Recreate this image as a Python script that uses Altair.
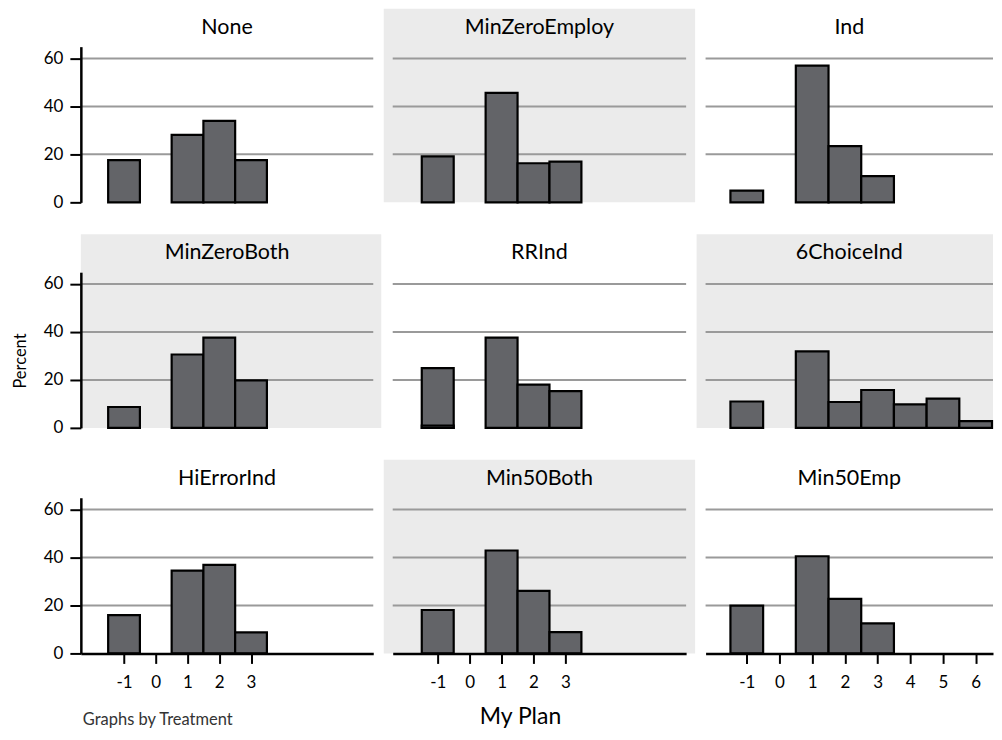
import altair as alt
import pandas as pd

# ---------------- data ----------------
treatments = ["None", "MinZeroEmploy", "Ind",
              "MinZeroBoth", "RRInd", "6ChoiceInd",
              "HiErrorInd", "Min50Both", "Min50Emp"]
shaded = [False, True, False, True, False, True, False, True, False]

plan_none = [-1, 1, 2, 3]
pct_none = [17.6, 28.1, 34.0, 17.6]
plan_minzeroemploy = [-1, 1, 2, 3]
pct_minzeroemploy = [19.2, 45.6, 16.3, 17.0]
plan_ind = [-1, 1, 2, 3]
pct_ind = [4.9, 57.0, 23.4, 10.9]
plan_minzeroboth = [-1, 1, 2, 3]
pct_minzeroboth = [8.7, 30.6, 37.6, 19.8]
plan_rrind = [-1, -1, 1, 2, 3]
pct_rrind = [24.9, 1.0, 37.6, 18.0, 15.3]
plan_6choiceind = [-1, 1, 2, 3, 4, 5, 6]
pct_6choiceind = [11.0, 31.9, 10.8, 15.8, 9.8, 12.2, 2.8]
plan_hierrorind = [-1, 1, 2, 3]
pct_hierrorind = [16.0, 34.5, 36.9, 8.8]
plan_min50both = [-1, 1, 2, 3]
pct_min50both = [18.1, 42.9, 26.1, 8.9]
plan_min50emp = [-1, 1, 2, 3]
pct_min50emp = [19.9, 40.5, 22.7, 12.5]

plans = [plan_none, plan_minzeroemploy, plan_ind, plan_minzeroboth, plan_rrind,
         plan_6choiceind, plan_hierrorind, plan_min50both, plan_min50emp]
pcts = [pct_none, pct_minzeroemploy, pct_ind, pct_minzeroboth, pct_rrind,
        pct_6choiceind, pct_hierrorind, pct_min50both, pct_min50emp]

y_ticks = [0, 20, 40, 60]
grid_values = [20, 40, 60]
x_ticks_short = [-1, 0, 1, 2, 3]
x_ticks_long = [-1, 0, 1, 2, 3, 4, 5, 6]

x_title = "My Plan"
y_title = "Percent"
note = "Graphs by Treatment"

# ---------------- styling ----------------
col_widths = [293, 294, 288]
H = 156
Y_MAX = 64.9
col_domains = [[-2.36, 6.85], [-2.41, 6.78], [-2.26, 6.53]]
FONT = "Lato"
BAR_FILL = "#636468"
GRID = "#9a9a9a"
SHADE = "#ebebeb"


def panel(i):
    row, col = divmod(i, 3)
    W = col_widths[col]
    df = pd.DataFrame({"plan": plans[i], "pct": pcts[i]})
    xscale = alt.Scale(domain=col_domains[col], nice=False, zero=False)
    yscale = alt.Scale(domain=[0, Y_MAX], nice=False, zero=True)

    if row == 2:
        xaxis = alt.Axis(values=x_ticks_long if col == 2 else x_ticks_short,
                         labelExpr="'' + datum.value",
                         title=None, grid=False, zindex=1,
                         domainColor="black", domainWidth=2.5,
                         tickColor="black", tickWidth=2, tickSize=10,
                         labelFont=FONT, labelFontSize=17, labelColor="black",
                         labelPadding=11, labelOverlap=False, labelFlush=False)
    else:
        xaxis = None
    if col == 0:
        yaxis = alt.Axis(values=y_ticks, title=None, grid=False, zindex=1,
                         domainColor="black", domainWidth=2.5,
                         tickColor="black", tickWidth=2, tickSize=11,
                         labelFont=FONT, labelFontSize=17, labelColor="black",
                         labelPadding=7, labelOverlap=False, labelFlush=False)
    else:
        yaxis = None

    layers = []
    if shaded[i]:
        left = 0 if col == 0 else -9
        right = W + 8 if col == 0 else (W + 9 if col == 1 else W)
        bg = alt.Chart(pd.DataFrame({"a": [0]})).mark_rect(color=SHADE).encode(
            x=alt.value(left), x2=alt.value(right),
            y=alt.value(-38), y2=alt.value(H))
        layers.append(bg)

    grid = alt.Chart(pd.DataFrame({"pct": grid_values})).mark_rule(
        color=GRID, strokeWidth=2).encode(
        y=alt.Y("pct:Q", scale=yscale, axis=yaxis),
        x=alt.value(0), x2=alt.value(W))
    layers.append(grid)

    bars = alt.Chart(df).transform_calculate(
        lo="datum.plan - 0.5", hi="datum.plan + 0.5", base="0"
    ).mark_rect(fill=BAR_FILL, stroke="black", strokeWidth=2.2).encode(
        x=alt.X("lo:Q", scale=xscale, axis=xaxis),
        x2="hi:Q",
        y=alt.Y("pct:Q", scale=yscale, axis=yaxis),
        y2="base:Q")
    layers.append(bars)

    title = alt.Chart(pd.DataFrame({"t": [treatments[i]]})).mark_text(
        font=FONT, fontSize=21.5, color="black", align="center",
        baseline="alphabetic").encode(
        text="t:N", x=alt.value(W / 2), y=alt.value(-13))
    layers.append(title)

    if i == 3:
        # transparent spacer reserving room left of the y-axis title
        spacer = alt.Chart(pd.DataFrame({"a": [0]})).mark_rect(opacity=0).encode(
            x=alt.value(-73), x2=alt.value(-72),
            y=alt.value(80), y2=alt.value(81))
        layers.append(spacer)
        yt = alt.Chart(pd.DataFrame({"t": [y_title]})).mark_text(
            font=FONT, fontSize=16.5, color="black", align="center",
            baseline="alphabetic", angle=270).encode(
            text="t:N", x=alt.value(-55), y=alt.value(89))
        layers.append(yt)
    if i == 6:
        nt = alt.Chart(pd.DataFrame({"t": [note]})).mark_text(
            font=FONT, fontSize=16.5, color="#333333", align="left",
            baseline="alphabetic").encode(
            text="t:N", x=alt.value(2), y=alt.value(H + 72))
        layers.append(nt)
    if i == 7:
        xt = alt.Chart(pd.DataFrame({"t": [x_title]})).mark_text(
            font=FONT, fontSize=23, color="black", align="center",
            baseline="alphabetic").encode(
            text="t:N", x=alt.value(128), y=alt.value(H + 71))
        layers.append(xt)

    return alt.layer(*layers).properties(width=W, height=H)


chart = alt.concat(
    *[panel(i) for i in range(9)],
    columns=3,
    spacing=alt.RowColnumber(row=70, column=19.5),
    bounds="flush",
    align="each",
).properties(
    padding=0,
    background="white",
).configure(font=FONT).configure_view(strokeWidth=0, stroke="transparent")

chart.save("out.html", embed_options={"renderer": "svg", "actions": False})
